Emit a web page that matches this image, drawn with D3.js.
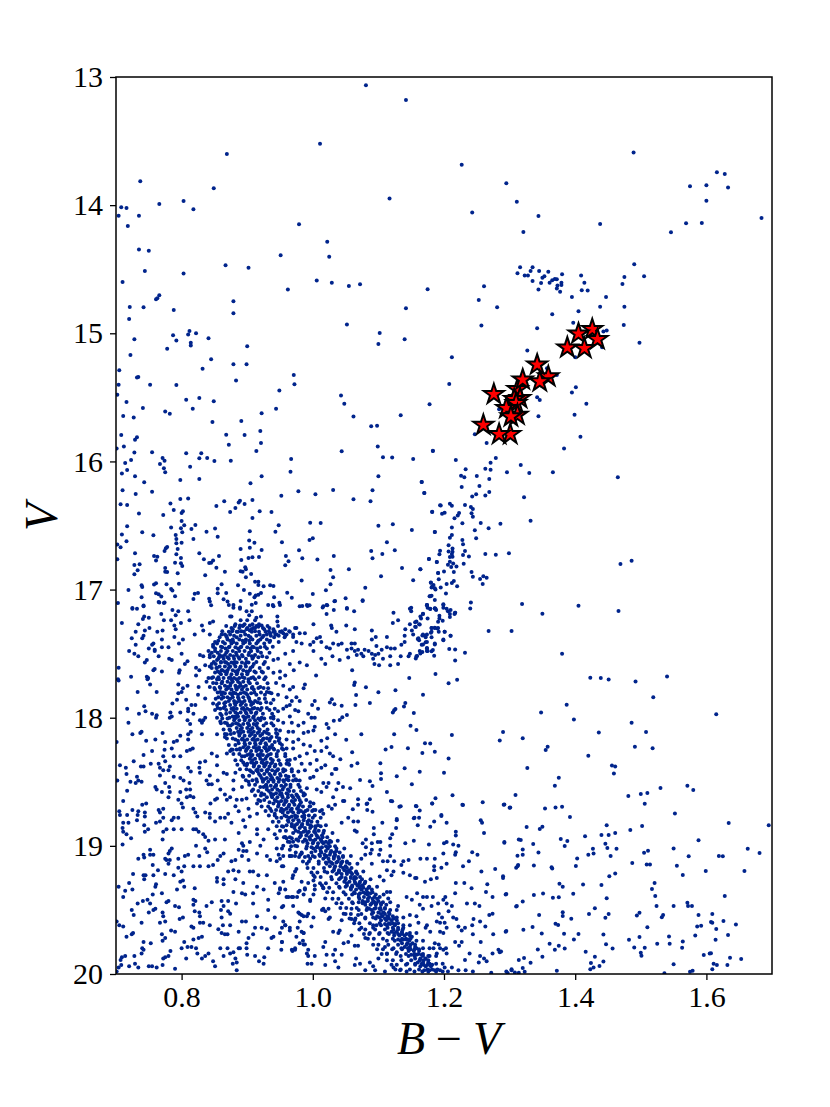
<!DOCTYPE html>
<html>
<head>
<meta charset="utf-8">
<script src="https://cdn.jsdelivr.net/npm/d3@7"></script>
<style>
  body { margin: 0; background: #fff; }
  text { font-family: "Liberation Serif", serif; fill: #000; }
</style>
</head>
<body>
<div id="chart"></div>
<script>
let FRAME_WIDTH = 830;
let FRAME_HEIGHT = 1107;
let MARGINS = {left: 116, right: 58, top: 77, bottom: 133};

const xTicks = [0.8, 1.0, 1.2, 1.4, 1.6];
const yTicks = [13, 14, 15, 16, 17, 18, 19, 20];

// [B-V, V], one list per part of the diagram
const brightField = [[1.081,13.065],[1.142,13.179],[1.011,13.52],[.869,13.6],[.737,13.814],[.849,13.868],[1.117,13.949],[.708,14.017],[.716,14.022],[.766,13.991],[.803,13.967],[.818,14.032],[.704,14.082],[.735,14.082],[.718,14.162],[.979,14.149],[1.022,14.285],[.951,14.391],[1.025,14.402],[.735,14.347],[.75,14.355],[.744,14.514],[.803,14.534],[.867,14.469],[.902,14.488],[.71,14.6],[1.006,14.589],[1.029,14.605],[1.055,14.631],[1.072,14.618],[.962,14.659],[1.175,14.657],[.766,14.704],[.763,14.727],[.761,14.735],[.879,14.75],[.879,14.844],[.721,14.795],[.742,14.797],[.788,14.818],[1.142,14.805],[.72,14.888],[1.052,14.932],[1.102,14.998],[1.14,15.047],[1.1,15.083],[.728,15.047],[.787,15.016],[.792,15.057],[.812,14.982],[.81,15.01],[.822,15],[.841,15.039],[.814,15.073],[.814,15.096],[.778,15.12],[.9,15.102],
[1.489,13.59],[1.227,13.684],[1.295,13.829],[1.616,13.744],[1.628,13.757],[1.575,13.853],[1.6,13.845],[1.633,13.863],[1.311,13.973],[1.6,13.965],[1.243,14.058],[1.344,14.084],[1.684,14.1],[1.438,14.147],[1.569,14.142],[1.593,14.139],[1.546,14.212],[1.321,14.209],[1.49,14.462],[1.316,14.485],[1.335,14.485],[1.332,14.514],[1.345,14.514],[1.359,14.519],[1.312,14.532],[1.323,14.55],[1.328,14.55],[1.38,14.54],[1.409,14.55],[1.353,14.555],[1.35,14.566],[1.369,14.576],[1.372,14.579],[1.365,14.586],[1.475,14.56],[1.505,14.555],[1.335,14.592],[1.348,14.607],[1.361,14.605],[1.379,14.605],[1.379,14.623],[1.373,14.628],[1.372,14.651],[1.414,14.605],[1.472,14.615],[1.261,14.633],[1.344,14.659],[1.41,14.665],[1.419,14.667],[1.377,14.675],[1.253,14.74],[1.395,14.717],[1.447,14.717],[1.281,14.797],[1.438,14.792],[1.475,14.792],[1.405,14.828],[1.365,14.852],
[1.397,14.917],[1.257,14.94],[1.342,14.961],[1.474,14.935],[1.443,14.987],[1.448,14.979],[1.498,15.073],[1.441,15.109],[1.4,15.187],[1.327,15.135],[1.212,15.187],[1.208,15.396],[1.401,15.422],[1.395,15.463],[1.342,15.5],[1.346,15.52],[1.417,15.549],[1.344,15.648],[1.399,15.635],[1.408,15.807],[1.383,15.9],[1.279,15.973],[1.218,15.989],[1.247,15.788],[1.265,15.856],[1.284,15.593],[1.372,15.325],[1.357,15.273]];

const midField = [[.722,15.169],[.845,15.203],[.879,15.242],[.899,15.242],[.832,15.276],[.705,15.289],[.732,15.346],[.734,15.341],[.971,15.325],[.972,15.398],[.883,15.369],[.704,15.401],[.752,15.401],[.792,15.403],[.949,15.447],[.702,15.479],[1.043,15.486],[1.048,15.549],[.807,15.518],[.827,15.505],[.849,15.531],[.716,15.536],[1.178,15.554],[.741,15.583],[.817,15.588],[.944,15.588],[.775,15.611],[.782,15.627],[.922,15.624],[1.134,15.64],[.711,15.645],[.727,15.658],[1.062,15.65],[.847,15.692],[.891,15.684],[1.089,15.726],[1.098,15.721],[.92,15.762],[.868,15.791],[.896,15.793],[.708,15.793],[.732,15.812],[.729,15.83],[.921,15.856],[.872,15.869],[.712,15.884],[1.099,15.884],[.701,15.9],[.914,15.918],[1.183,15.918],[1.044,15.921],[.728,15.931],[.755,15.929],[.807,15.936],[.83,15.936],[.771,15.973],[.774,15.994],[.827,15.975],[.839,15.973],[.85,15.996],[.875,15.994],[.967,15.981],[1.107,15.968],[1.121,15.97],[1.153,15.981],[.723,15.989],[.714,16.012],[.767,16.02],[.813,16.041],[.773,16.054],[.717,16.067],[.775,16.085],[.709,16.095],[.966,16.08],[.729,16.116],[.922,16.116],[1.1,16.116],[.798,16.145],[.827,16.137],[.743,16.163],[.905,16.171],[1.166,16.16],[1.091,16.225],[1.031,16.223],[.71,16.225],[.755,16.236],[.978,16.233],[.73,16.254],[1.004,16.256],[1.17,16.246],[.952,16.267],[.798,16.293],[.81,16.29],[1.062,16.295],[1.088,16.311],[.908,16.301],[.865,16.311],[.889,16.306],[.887,16.321],[.896,16.332],[.783,16.329],[.707,16.334],[.717,16.34],[.853,16.348],[1.194,16.342],[.882,16.363],[.788,16.379],[.874,16.394],[.919,16.389],[.937,16.394],[.802,16.389],[.8,16.402],[1.182,16.394],[.735,16.407],[.772,16.418],[.908,16.441],[.8,16.465],[.996,16.478],[1.012,16.48],[.804,16.498],[.821,16.496],[.948,16.498],[1.1,16.501],[1.122,16.491],[.717,16.506],[.784,16.516],[.799,16.522],[.815,16.527],[.851,16.524],[1.151,16.535],[.74,16.553],[.838,16.548],[.904,16.545],[.943,16.548],[1.186,16.55],[.709,16.571],[.757,16.576],[.791,16.574],[.801,16.553],[.855,16.587],[.792,16.605],[.818,16.605],[1,16.6],[.995,16.613],[.903,16.618],[.716,16.623],[.792,16.639],[.8,16.634],[.911,16.634],[.953,16.631],[1.113,16.631],[.702,16.649],[.707,16.67],[.778,16.667],[.776,16.678],[.774,16.699],[.794,16.683],[.89,16.683],[.904,16.673],[.922,16.691],[.979,16.694],[1.125,16.694],[1.089,16.699],[.729,16.717],[.792,16.725],[.827,16.717],[.758,16.738],[.763,16.743],[.857,16.738],[.959,16.738],[1.032,16.738],[1.106,16.722],[.918,16.745],[.902,16.753],[.908,16.748],[.799,16.753],[.834,16.763],[.984,16.756],[1.007,16.766],[1.091,16.756],[.891,16.769],[1.177,16.761],[1.189,16.784],[.761,16.774],[.702,16.763],[.79,16.79],[.799,16.795],[.848,16.774],[.842,16.792],[.845,16.79],[.963,16.779],[.958,16.811],[.728,16.808],[.736,16.803],[.801,16.816],[.853,16.829],[.775,16.831],[.775,16.86],[.778,16.863],[.733,16.85],[.728,16.881],[.794,16.873],[.866,16.86],[.897,16.826],[.89,16.857],[.893,16.86],[.898,16.842],[.906,16.878],[1.027,16.847],[1.055,16.842],[1.136,16.831],[1.164,16.842],[1.191,16.87],[.836,16.889],[.898,16.904],[1.031,16.904],[1.104,16.896],[.912,16.938],[.917,16.938],[.917,16.964],[.983,16.93],[1.153,16.928],[1.18,16.946],[.758,16.961],[.761,16.951],[.739,16.967],[.74,16.98],[.777,16.959],[.796,16.954],[.861,16.959],[.886,16.967],[.925,16.974],[.935,16.967],[.94,16.972],[1.027,16.959],[1.182,16.977],[1.186,16.99],[1.08,16.985],[.719,17.003],[.784,16.995],[.786,17.008],[.855,16.993],[.895,17.003],[1.02,17.006],[.761,17.029],[.765,17.037],[.769,17.055],[.82,17.032],[.825,17.026],[.855,17.029],[.868,17.026],[.904,17.032],[.913,17.047],[.911,17.06],[.917,17.04],[.921,17.026],[.961,17.024],[1,17.034],[.739,17.06],[.79,17.052],[.818,17.073],[.842,17.071],[.843,17.094],[.845,17.123],[.864,17.076],[.87,17.094],[.872,17.12],[.89,17.089],[.941,17.06],[.968,17.063],[1.05,17.068],[1.033,17.092],[1.076,17.084],[1.179,17.052],[.703,17.105],[.765,17.097],[.773,17.105],[.742,17.125],[.913,17.105],[.907,17.118],[.932,17.12],[.939,17.12],[.94,17.13],[.949,17.102],[.95,17.12],[.984,17.128],[.992,17.128],[.995,17.123],[1.022,17.123],[1.015,17.139],[1.174,17.123],[.725,17.143],[.879,17.141],[.889,17.139],[1.052,17.143],[1.15,17.141],[1.186,17.146]];

const giantBranch = [[1.183,15.916],[1.271,16.01],[1.317,16.028],[1.233,16.062],[1.263,16.057],[1.271,16.065],[1.296,16.085],[1.33,16.091],[1.366,16.085],[1.465,16.124],[1.226,16.111],[1.231,16.124],[1.25,16.114],[1.269,16.137],[1.166,16.161],[1.254,16.192],[1.227,16.2],[1.17,16.247],[1.269,16.239],[1.263,16.265],[1.249,16.257],[1.243,16.273],[1.322,16.28],[1.209,16.33],[1.212,16.345],[1.195,16.343],[1.232,16.34],[1.241,16.356],[1.244,16.372],[1.182,16.392],[1.197,16.408],[1.201,16.4],[1.223,16.403],[1.221,16.421],[1.242,16.405],[1.244,16.431],[1.216,16.444],[1.228,16.483],[1.256,16.481],[1.286,16.486],[1.332,16.463],[1.212,16.515],[1.268,16.522],[1.247,16.538],[1.186,16.551],[1.212,16.574],[1.209,16.595],[1.249,16.6],[1.228,16.613],[1.229,16.647],[1.207,16.655],[1.213,16.679],[1.207,16.702],[1.213,16.704],[1.212,16.723],[1.209,16.746],[1.213,16.743],[1.194,16.697],[1.193,16.725],[1.232,16.699],[1.229,16.73],[1.238,16.741],[1.263,16.723],[1.279,16.728],[1.299,16.717],[1.177,16.762],[1.189,16.785],[1.209,16.783],[1.206,16.806],[1.214,16.796],[1.211,16.824],[1.219,16.819],[1.23,16.798],[1.469,16.801],[1.486,16.775],[1.164,16.842],[1.2,16.858],[1.191,16.871],[1.215,16.863],[1.242,16.863],[1.244,16.9],[1.192,16.92],[1.26,16.897],[1.265,16.907],[1.255,16.918],[1.259,16.957],[1.215,16.933],[1.212,16.949],[1.204,16.957],[1.18,16.944],[1.184,16.965],[1.181,16.983],[1.187,16.999],[1.195,16.983],[1.22,16.975],[1.203,17.03],[1.181,17.048],[1.178,17.053],[1.186,17.082],[1.241,17.1],[1.24,17.147],[1.199,17.115],[1.199,17.142],[1.174,17.121],[1.175,17.142],[1.179,17.152],[1.186,17.147],[1.188,17.16],[1.21,17.16],[1.206,17.17],[1.217,17.181],[1.216,17.19],[1.319,17.113],[1.405,17.126],[1.35,17.188],[1.466,17.167],[1.168,17.188],[1.165,17.225],[1.175,17.225],[1.193,17.204],[1.193,17.225],[1.191,17.251],[1.198,17.243],[1.209,17.214],[1.156,17.255],[1.163,17.272],[1.157,17.292],[1.181,17.3],[1.186,17.298],[1.19,17.303],[1.192,17.329],[1.18,17.337],[1.201,17.329],[1.21,17.36],[1.268,17.324],[1.303,17.324],[1.167,17.358],[1.172,17.358],[1.172,17.373],[1.181,17.373],[1.16,17.386],[1.162,17.396],[1.199,17.396],[1.172,17.412],[1.168,17.428],[1.186,17.428],[1.174,17.456],[1.174,17.48],[1.167,17.487],[1.164,17.498],[1.183,17.472],[1.181,17.482],[1.208,17.464],[1.217,17.467],[1.232,17.493],[1.185,17.516],[1.159,17.519],[1.157,17.537],[1.217,17.553]];

const subgiantBranch = [[.935,17.34],[.94,17.33],[.945,17.35],[.95,17.33],[.955,17.34],[.96,17.35],[.965,17.33],[.97,17.37],[.975,17.3],[.98,17.34],[.988,17.34],[.975,17.41],[.983,17.42],[.996,17.43],[1.001,17.41],[1.006,17.38],[1.011,17.37],[1.013,17.41],[1.021,17.45],[1.026,17.46],[1.031,17.42],[1.039,17.43],[1.044,17.42],[1.052,17.47],[1.059,17.42],[1.059,17.46],[1.064,17.48],[1.069,17.47],[1.074,17.5],[1.079,17.47],[1.085,17.48],[1.09,17.5],[1.095,17.51],[1.092,17.54],[1.094,17.58],[1.101,17.59],[1.107,17.54],[1.118,17.52],[1.118,17.59],[1.13,17.58],[1.1,17.5],[1.105,17.47],[1.001,17.48],[1.013,17.54],[1.019,17.58],[1.03,17.52],[1.041,17.55],[1.054,17.53],[1.067,17.51],[1.077,17.52],[1.06,17.63],
[1.174,17.12],[1.179,17.15],[1.187,17.15],[1.199,17.12],[1.204,17.15],[1.209,17.19],[1.217,17.18],[1.168,17.19],[1.164,17.21],[1.158,17.25],[1.148,17.27],[1.162,17.27],[1.156,17.29],[1.151,17.32],[1.141,17.31],[1.14,17.36],[1.168,17.35],[1.174,17.35],[1.191,17.3],[1.186,17.3],[1.181,17.3],[1.201,17.33],[1.21,17.36],[1.199,17.39],[1.186,17.42],[1.174,17.41],[1.161,17.38],[1.153,17.35],[1.181,17.33],[1.166,17.43],[1.174,17.46],[1.175,17.48],[1.163,17.48],[1.148,17.5],[1.146,17.52],[1.158,17.52],[1.134,17.52],[1.135,17.43],[1.14,17.41],[1.125,17.46],[1.119,17.46],[1.113,17.45],[1.097,17.44],
[.876,17.21],[.843,17.26],[.848,17.25],[.831,17.28],[.833,17.32],[.82,17.35],[.843,17.35],[.866,17.35],[.889,17.28],[.894,17.28],[.904,17.28],[.914,17.22],[.921,17.21],[.946,17.21],[.946,17.25],[.973,17.3],[1.001,17.27],[1.028,17.28],[1.029,17.3],[1.051,17.28],[1.064,17.31],[1.036,17.33],[.899,17.17],[.907,17.17],[.903,17.2],[.889,17.15],[.879,17.12],[.874,17.21],[.886,17.33],[.904,17.32],[.909,17.3],[.917,17.29],[.922,17.28],[.98,17.13],[.991,17.12],[1.016,17.13],[1.021,17.12],[1.034,17.09],[1.032,17.16],[1.021,17.19],[1.063,17.17],[1.052,17.15],[1.076,17.09],[1.123,17.18],[1.148,17.15],[1.15,17.17],[1.13,17.24],[1.122,17.26],[1.09,17.32],[1.113,17.37],[1.096,17.37],[1.09,17.39],[1.064,17.42]];

const rightField = [[1.38,17.501],[1.423,17.688],[1.439,17.691],[1.451,17.701],[1.492,17.717],[1.54,17.678],[1.519,17.841],[1.387,17.899],[1.348,17.959],[1.398,18.013],[1.615,17.972],[1.486,18.039],[1.29,18.112],[1.436,18.115],[1.508,18.112],[1.32,18.161],[1.285,18.177],[1.491,18.226],[1.518,18.239],[1.358,18.226],[1.355,18.252],[1.42,18.297],[1.456,18.372],[1.461,18.38],[1.459,18.435],[1.327,18.393],[1.375,18.468],[1.369,18.531],[1.571,18.531],[1.58,18.565],[1.53,18.549],[1.51,18.588],[1.5,18.596],[1.481,18.611],[1.309,18.604],[1.506,18.671],[1.292,18.677],[1.3,18.703],[1.354,18.708],[1.37,18.7],[1.38,18.695],[1.552,18.747],[1.392,18.775],[1.634,18.822],[1.695,18.84],[1.448,18.84],[1.326,18.853],[1.35,18.851],[1.346,18.869],[1.502,18.846],[1.484,18.877],[1.415,18.926],[1.44,18.916],[1.451,18.916],[1.461,18.9],[1.378,18.947],[1.388,18.963],[1.317,18.955],[1.292,18.976],[1.336,18.986],[1.588,18.957],[1.446,18.983],[1.384,19.002],[1.449,19.017],[1.427,19.023],[1.463,19.023],[1.55,19.02],[1.663,19.023],[1.32,19.028],[1.344,19.051],[1.511,19.038],[1.505,19.054],[1.681,19.056],[1.312,19.077],[1.32,19.069],[1.42,19.069],[1.428,19.059],[1.454,19.08],[1.573,19.082],[1.619,19.08],[1.625,19.082],[1.403,19.098],[1.487,19.134],[1.509,19.145],[1.514,19.145],[1.313,19.15],[1.31,19.171],[1.337,19.153],[1.364,19.166],[1.365,19.176],[1.401,19.158],[1.555,19.155],[1.599,19.197],[1.658,19.197],[1.564,19.228],[1.461,19.215],[1.452,19.238],[1.29,19.238],[1.521,19.29],[1.376,19.296],[1.381,19.319],[1.412,19.301],[1.44,19.306],[1.517,19.337],[1.295,19.376],[1.337,19.384],[1.351,19.371],[1.397,19.374],[1.366,19.405],[1.375,19.402],[1.448,19.408],[1.522,19.392],[1.628,19.392],[1.32,19.434],[1.31,19.473],[1.571,19.444],[1.572,19.47],[1.578,19.47],[1.524,19.47],[1.55,19.47],[1.43,19.486],[1.381,19.519],[1.381,19.548],[1.345,19.54],[1.421,19.532],[1.451,19.532],[1.446,19.561],[1.498,19.522],[1.494,19.543],[1.534,19.54],[1.532,19.558],[1.588,19.54],[1.609,19.532],[1.394,19.569],[1.607,19.595],[1.609,19.6],[1.626,19.587],[1.37,19.608],[1.374,19.618],[1.645,19.613],[1.586,19.629],[1.592,19.623],[1.335,19.634],[1.51,19.636],[1.615,19.649],[1.295,19.665],[1.321,19.655],[1.349,19.683],[1.383,19.686],[1.405,19.688],[1.443,19.691],[1.583,19.699],[1.633,19.696],[1.498,19.712],[1.543,19.707],[1.398,19.73],[1.482,19.733],[1.564,19.746],[1.614,19.733],[1.361,19.764],[1.375,19.78],[1.447,19.767],[1.525,19.764],[1.544,19.764],[1.343,19.808],[1.369,19.811],[1.384,19.801],[1.457,19.801],[1.49,19.793],[1.506,19.795],[1.563,19.795],[1.287,19.824],[1.416,19.826],[1.5,19.834],[1.501,19.857],[1.607,19.839],[1.605,19.84],[1.596,19.852],[1.35,19.865],[1.43,19.865],[1.636,19.873],[1.653,19.883],[1.322,19.876],[1.314,19.891],[1.443,19.902],[1.332,19.912],[1.424,19.915],[1.55,19.923],[1.611,19.92],[1.616,19.93],[1.632,19.93],[1.437,19.938],[1.428,19.949],[1.423,19.962],[1.303,19.962],[1.32,19.954],[1.609,19.962],[1.372,19.975],[1.323,19.983],[1.308,19.988],[1.297,19.993],[1.575,19.983],[1.579,19.975],[1.536,19.995]];

const leftField = [[.725,17.15],[.732,17.15],[.742,17.13],[.766,17.1],[.774,17.1],[.709,17.26],[.769,17.19],[.743,17.21],[.741,17.23],[.75,17.22],[.734,17.27],[.773,17.24],[.784,17.24],[.786,17.16],[.795,17.17],[.791,17.2],[.81,17.17],[.812,17.24],[.799,17.26],[.789,17.28],[.791,17.31],[.751,17.3],[.744,17.32],[.73,17.33],[.724,17.38],[.742,17.36],[.74,17.38],[.763,17.33],[.771,17.32],[.77,17.39],[.757,17.42],[.755,17.43],[.73,17.43],[.75,17.46],[.759,17.47],[.759,17.48],[.77,17.45],[.78,17.45],[.789,17.37],[.796,17.42],[.802,17.39],[.8,17.5],[.72,17.48],[.728,17.5],[.734,17.52],[.747,17.55],[.744,17.57],[.765,17.52],[.781,17.54],[.785,17.55],[.809,17.56],[.805,17.58],[.704,17.61],[.723,17.68],[.757,17.63],[.759,17.62],[.77,17.64],[.797,17.63],[.796,17.65],[.822,17.61],[.827,17.63],[.822,17.67],[.703,17.7],[.704,17.71],[.747,17.68],[.749,17.69],[.748,17.7],[.752,17.74],[.795,17.74],[.809,17.75],[.826,17.76],[.802,17.77],[.8,17.8],[.795,17.81],[.733,17.8],[.762,17.8],[.825,17.82],[.807,17.86],[.793,17.86],[.836,17.85],[.786,17.89],[.821,17.9],[.815,17.9],[.81,17.93],[.717,17.93],[.743,17.91],[.745,17.95],[.735,17.97],[.755,17.97],[.762,17.98],[.761,18],[.783,17.96],[.785,17.99],[.782,18],[.798,17.96],[.81,17.95],[.818,17.97],[.836,18],[.828,18.02],[.831,18.04],[.719,18.04],[.809,18.02],[.813,18.05],[.737,18.12],[.739,18.11],[.725,18.13],[.771,18.12],[.76,18.17],[.746,18.18],[.798,18.14],[.793,18.18],[.788,18.19],[.775,18.19],[.701,18.19],[.814,18.11],[.81,18.13],[.81,18.17],[.831,18.13],[.785,18.24],[.774,18.25],[.772,18.3],[.755,18.26],[.742,18.29],[.817,18.24],[.813,18.25],[.808,18.26],[.798,18.3],[.788,18.3],[.775,18.34],[.727,18.34],[.706,18.37],[.715,18.39],[.738,18.38],[.742,18.38],[.753,18.36],[.765,18.36],[.767,18.39],[.782,18.38],[.78,18.41],[.772,18.41],[.828,18.35],[.836,18.34],[.81,18.39],[.814,18.42],[.827,18.39],[.828,18.43],[.716,18.44],[.732,18.46],[.767,18.45],[.702,18.49],[.722,18.5],[.73,18.51],[.739,18.5],[.734,18.49],[.775,18.51],[.788,18.46],[.798,18.47],[.803,18.49],[.812,18.51],[.838,18.49],[.841,18.52],[.846,18.52],[.843,18.45],[.855,18.49],[.864,18.43],[.869,18.44],[.76,18.54],[.762,18.56],[.77,18.58],[.781,18.54],[.782,18.58],[.78,18.62],[.717,18.57],[.798,18.58],[.807,18.56],[.813,18.56],[.813,18.61],[.818,18.62],[.808,18.62],[.859,18.56],[.854,18.63],[.851,18.64],[.711,18.65],[.795,18.64],[.8,18.67],[.802,18.7],[.844,18.67],[.74,18.68],[.746,18.67],[.772,18.71],[.765,18.72],[.705,18.73],[.725,18.72],[.734,18.73],[.733,18.76],[.744,18.74],[.744,18.77],[.767,18.74],[.818,18.71],[.821,18.74],[.824,18.77],[.836,18.74],[.843,18.75],[.711,18.82],[.706,18.76],[.717,18.76],[.732,18.8],[.767,18.81],[.772,18.78],[.761,18.82],[.788,18.78],[.785,18.8],[.795,18.78],[.843,18.78],[.851,18.81],[.859,18.78],[.866,18.78],[.71,18.86],[.711,18.89],[.719,18.82],[.716,18.91],[.723,18.94],[.743,18.84],[.749,18.87],[.744,18.89],[.772,18.89],[.777,18.87],[.788,18.87],[.8,18.87],[.818,18.87],[.822,18.87],[.826,18.89],[.833,18.91],[.836,18.93],[.841,18.96],[.851,18.95],[.866,18.95],[.771,18.95],[.71,18.99],[.785,19.02],[.782,19.04],[.78,19.06],[.822,19],[.836,19.02],[.839,19.05],[.752,19.03],[.742,19.07],[.734,19.1],[.743,19.09],[.752,19.07],[.757,19.07],[.777,19.11],[.782,19.11],[.78,19.14],[.775,19.1],[.795,19.1],[.805,19.08],[.81,19.07],[.827,19.08],[.859,19.08],[.864,19.06],[.855,19.11],[.756,19.15],[.764,19.19],[.795,19.17],[.804,19.16],[.818,19.16],[.828,19.16],[.841,19.16],[.848,19.15],[.726,19.22],[.742,19.23],[.745,19.23],[.743,19.26],[.757,19.23],[.775,19.22],[.788,19.23],[.8,19.2],[.802,19.27],[.798,19.28],[.704,19.32],[.72,19.29],[.714,19.35],[.725,19.34],[.761,19.3],[.76,19.32],[.793,19.34],[.804,19.32],[.82,19.33],[.854,19.25],[.854,19.28],[.864,19.3],[.879,19.36],[.756,19.38],[.77,19.37],[.711,19.4],[.748,19.42],[.741,19.43],[.733,19.45],[.752,19.45],[.78,19.43],[.777,19.44],[.79,19.47],[.796,19.48],[.818,19.42],[.821,19.43],[.818,19.46],[.846,19.44],[.838,19.47],[.861,19.43],[.864,19.47],[.871,19.43],[.883,19.45],[.909,19.45],[.724,19.5],[.727,19.54],[.757,19.5],[.76,19.49],[.75,19.52],[.771,19.52],[.772,19.55],[.797,19.57],[.802,19.56],[.82,19.51],[.827,19.52],[.828,19.55],[.86,19.5],[.871,19.51],[.874,19.53],[.739,19.6],[.767,19.6],[.775,19.59],[.701,19.59],[.705,19.62],[.711,19.63],[.833,19.6],[.828,19.6],[.843,19.62],[.861,19.56],[.863,19.62],[.874,19.62],[.892,19.59],[.898,19.59],[.815,19.63],[.818,19.64],[.726,19.68],[.724,19.69],[.716,19.71],[.77,19.69],[.775,19.72],[.771,19.74],[.784,19.66],[.79,19.67],[.856,19.65],[.861,19.68],[.866,19.69],[.87,19.69],[.831,19.71],[.826,19.72],[.818,19.73],[.804,19.75],[.742,19.75],[.753,19.76],[.74,19.8],[.742,19.81],[.8,19.8],[.809,19.79],[.815,19.79],[.822,19.8],[.824,19.84],[.783,19.82],[.831,19.88],[.841,19.84],[.836,19.86],[.807,19.88],[.78,19.86],[.775,19.87],[.772,19.88],[.739,19.84],[.728,19.86],[.714,19.86],[.709,19.87],[.707,19.89],[.708,19.93],[.704,19.95],[.701,19.98],[.72,19.94],[.729,19.92],[.734,19.95],[.75,19.94],[.755,19.94],[.762,19.95],[.771,19.93],[.79,19.96],[.848,19.9],[.864,19.86],[.874,19.84],[.879,19.83],[.882,19.88],[.884,19.91],[.878,19.92],[.851,19.94],[.884,19.97],[.859,19.8],[.87,19.8],[.887,19.8],[.889,19.8],[.899,19.76],[.902,19.72],[.887,19.67],[.899,19.8],[.912,19.86],[.926,19.87],[.918,19.9],[.925,19.92],[.9,19.85]];

const bandLeft = [[.854,17.42],[.848,17.43],[.841,17.48],[.833,17.52],[.843,17.51],[.828,17.51],[.851,17.48],[.854,17.55],[.846,17.58],[.836,17.59],[.843,17.6],[.854,17.61],[.861,17.63],[.841,17.69],[.846,17.69],[.848,17.73],[.838,17.72],[.843,17.76],[.854,17.7],[.851,17.78],[.859,17.8],[.856,17.84],[.864,17.84],[.848,17.89],[.854,17.9],[.851,17.94],[.859,17.93],[.866,17.91],[.861,17.98],[.854,18],[.859,18.03],[.866,18.04],[.871,18.06],[.874,18.1],[.869,18.13],[.882,17.99],[.833,18.02],[.854,18.13],[.866,18.15],[.846,18.28],[.854,18.3],[.869,18.28],[.874,18.26],[.878,18.25],[.882,18.17],[.887,18.2],[.889,18.25],[.892,18.3],[.894,18.35],[.899,18.37],[.904,18.41],[.894,18.46],[.902,18.5],[.915,18.5],[.909,18.43],[.854,18.37],[.879,18.49],[.882,18.43],[.925,18.54],[.922,18.59],[.92,18.65],[.915,18.67],[.93,18.62],[.94,18.67],[.935,18.71],[.942,18.75],[.945,18.78],[.955,18.85],[.958,18.93],[.942,18.91],[.932,18.87],[.945,18.94],[.968,18.94],[.975,18.95],[.965,19.08],[.948,19.07],[.955,19.08],[.973,19.08],[.981,19.07],[.996,19.1],[.991,19.14],[.945,19.12],[.93,19.23],[.917,19.23],[.909,19.2],[.904,19.2],[.892,19.08],[.894,19.04],[.887,19.03],[.892,18.98],[.894,19],[.882,19.11],[.876,19.12],[.915,19.06],[.902,19.11],[.871,19.2],[.879,19.19],[.887,19.2],[.864,19.26],[.882,19.26],[.894,19.29],[.915,19.32],[.948,19.37],[.95,19.34],[.96,19.4],[.968,19.4],[.986,19.38],[.978,19.36],[.988,19.34],[.892,19.37],[.897,19.38],[.955,19.47],[.932,19.5],[.942,19.56],[.955,19.59],[.958,19.62],[.978,19.52],[.983,19.54],[.991,19.55],[.965,19.66],[.977,19.64],[.986,19.68],[.968,19.81],[.973,19.8],[.953,19.75],[.94,19.71],[.937,19.72],[.932,19.8],[.952,19.81],[.912,19.64],[.922,19.64],[.909,19.69],[.985,19.74],[.988,19.77],[.991,19.84],
[.874,18.62],[.882,18.69],[.887,18.73],[.871,18.75],[.902,18.71],[.894,18.8],[.904,18.77],[.915,18.75],[.897,18.85],[.887,18.9],[.876,18.82],[.915,18.91],[.904,18.97],[.899,19.04],[.92,19],[.93,19.08],[.869,18.64],[.884,18.64],[.892,18.64],[.899,18.63],[.909,18.56],[.892,18.54],[.879,18.56],[.866,18.6],[.915,18.87],[.925,18.95],[.945,19.02],[.955,19],[.965,19.03],[.983,19.06],[.935,19.11],[.953,19.16],[.97,19.23],[.983,19.28],[.955,19.28],[.942,19.29],[.925,19.34],[.909,19.37],[.932,19.42],[.97,19.47],[.996,19.43],[.915,19.55],[.93,19.65],
[1.001,18.67],[1.001,18.72],[1.014,18.72],[1.016,18.75],[.96,18.94],[.953,19.02],[.965,18.97],[.973,19],[1.044,18.82],[1.054,18.78],[1.062,18.81],[1.069,18.81],[1.064,18.88],[1.067,18.89],[.965,19.08],[.968,19.08],[.95,19.1],[.993,19.08],[.955,19.16],[.975,19.18],[.973,19.2],[.969,19.25],[1.001,19.23],[1.001,19.27],[.993,19.29],[.988,19.33],[1.003,19.34],[.98,19.35],[.976,19.4],[.97,19.4],[.963,19.4],[1.003,19.31],[1.014,19.31],[1.016,19.33],[1.001,19.38],[.996,19.42],[.95,19.33],[.958,19.34],[1.019,19.41],[1.024,19.49],[1.016,19.49],[1.019,19.51],[1.014,19.5],[.953,19.48],[.98,19.53],[.986,19.55],[.993,19.53],[1.001,19.56],[.998,19.63],[1.024,19.57],[1.026,19.56],[1.044,19.58],[1.047,19.53],[1.059,19.49],[1.059,19.57],[1.069,19.54],[1.064,19.58],[.98,19.59],[.983,19.67],[.975,19.71],[.965,19.64],[.958,19.62],[.953,19.64],[.95,19.68],[.953,19.75],[.986,19.68],[.98,19.76],[.973,19.81],[.969,19.82],[.986,19.77],[.993,19.81],[1.003,19.86],[.993,19.86],[.998,19.92],[.992,19.92],[1.019,19.75],[1.016,19.79],[1.031,19.67],[1.039,19.68],[1.041,19.66],[1.059,19.7],[1.054,19.75],[1.064,19.78],[1.069,19.78],[1.047,19.76],[1.034,19.81],[1.031,19.85],[1.044,19.85],[1.021,19.85],[1.034,19.9],[1.019,19.93],[1.066,19.88],[1.072,19.92],[1.064,19.93],[1.039,19.95],[1.08,19.97],[1.087,19.91],[1.1,19.88],[1.092,19.94],[1.095,19.97],[1.11,19.98],[1.074,19.64],[1.08,19.72],[1.087,19.68],[1.092,19.64],[1.097,19.62],[1.11,19.79],[1.113,19.84],[1.128,19.83],[1.123,19.95],[1.133,19.97],[1.143,19.98]];

const bandRight = [[.94,17.55],[.947,17.54],[.958,17.5],[.97,17.48],[.98,17.57],[.991,17.59],[.971,17.63],[.965,17.58],[.95,17.64],[.958,17.67],[.94,17.65],[.944,17.73],[.95,17.69],[.932,17.77],[.93,17.8],[.937,17.81],[.955,17.75],[.965,17.78],[.97,17.76],[.986,17.77],[.988,17.74],[1.005,17.67],[.94,17.86],[.947,17.82],[.96,17.84],[.975,17.84],[.98,17.87],[.968,17.87],[.955,17.93],[.96,17.91],[.965,17.9],[.942,17.93],[.947,17.95],[.978,17.95],[.973,17.94],[1.003,17.87],[1.008,17.93],[.999,17.9],[.993,17.97],[1.003,18],[.998,18],[.94,17.99],[.947,18.02],[.965,17.99],[.955,18.04],[.978,18.06],[.968,18.04],[.986,18.04],[.97,18.11],[.963,18.11],[.95,18.1],[.945,18.15],[.937,18.15],[.93,18.16],[.986,18.12],[.993,18.11],[1.001,18.1],[1.003,18.07],[1.021,18.05],[1.024,18.08],[1.013,18.18],[1.022,18.16],[1.034,18.13],[.978,18.17],[.986,18.21],[.97,18.19],[.96,18.17],[.95,18.2],[.942,18.19],[.937,18.23],[.947,18.26],[.96,18.24],[.97,18.24],[.996,18.22],[1.003,18.26],[1.013,18.26],[1.021,18.23],[1.026,18.28],[1.031,18.3],[.991,18.28],[.98,18.3],[.973,18.32],[.965,18.33],[.96,18.36],[.983,18.36],[.996,18.36],[1.006,18.33],[1.019,18.37],[1.013,18.39],[1.006,18.41],[1.034,18.4],[1.036,18.4],[1.029,18.44],[.988,18.41],[.978,18.42],[.963,18.46],[.958,18.41],[.97,18.49],[.98,18.49],[.996,18.47],[1.001,18.46],[1.016,18.51],[1.024,18.51],[1.021,18.54],[1.039,18.51],[1.046,18.54],[1.057,18.55],[1.036,18.56],[1.031,18.62],[1.013,18.58],[1.006,18.56],[.991,18.55],[.986,18.59],[1.046,18.65],[1.034,18.68],[1.029,18.71],[1.024,18.69],[.996,18.69],[1.011,18.73],[.978,18.62],
[1.147,17.69],[1.126,17.786],[1.168,17.82],[1.1,17.802],[1.081,17.763],[1.064,17.726],[1.063,17.745],[1.066,17.822],[1.065,17.9],[1.087,17.885],[1.124,17.942],[1.126,17.932],[1.122,17.96],[1.141,17.885],[1.139,17.913],[1.154,17.963],[1.044,17.906],[1.029,17.856],[1.026,17.882],[1.033,17.895],[1.052,17.978],[1.045,17.997],[1.041,18.017],[1.032,18.023],[1.149,18.062],[1.158,18.096],[1.074,18.129],[1.124,18.129],[1.212,18.135],[1.051,18.171],[1.171,18.2],[1.179,18.202],[1.12,18.228],[1.111,18.249],[1.145,18.239],[1.167,18.275],[1.186,18.265],[1.207,18.319],[1.06,18.27],[1.042,18.325],[1.103,18.356],[1.059,18.374],[1.068,18.356],[1.14,18.395],[1.163,18.421],[1.2,18.429],[1.104,18.434],[1.104,18.478],[1.128,18.457],[1.072,18.486],[1.087,18.496],[1.091,18.533],[1.151,18.52],[1.113,18.579],[1.213,18.605],[1.187,18.629],[1.121,18.652],[1.182,18.67],[1.229,18.681],[1.132,18.694],[1.157,18.689],[1.163,18.725],[1.196,18.767],[1.087,18.637],[1.082,18.673],[1.069,18.637],[1.048,18.65],[1.091,18.733],[1.061,18.715],[1.128,18.79],[1.154,18.785],[1.187,17.658],[1.207,17.731],[1.22,17.703],
[1.228,18.68],[1.259,18.66],[1.291,18.68],[1.301,18.7],[1.256,18.8],[1.258,18.82],[1.261,18.9],[1.292,18.97],[1.314,18.95],[1.158,18.69],[1.182,18.67],[1.134,18.69],[1.119,18.65],[1.083,18.67],[1.083,18.72],[1.069,18.68],[1.162,18.78],[1.155,18.78],[1.16,18.84],[1.185,18.81],[1.179,18.85],[1.204,18.82],[1.196,18.76],[1.106,18.82],[1.128,18.8],[1.127,18.86],[1.121,18.91],[1.118,18.94],[1.093,18.86],[1.093,18.91],[1.218,18.89],[1.218,18.92],[1.204,18.97],[1.2,18.98],[1.222,19],[1.214,18.99],[1.177,18.99],[1.154,18.96],[1.141,18.98],[1.118,19],[1.099,18.97],[1.103,18.97],[1.09,18.98],[1.081,18.95],[1.076,18.98],[1.081,19.01],[1.103,19.03],[1.09,19.03],[1.088,19.06],[1.199,19.06],[1.218,19.05],[1.217,19.07],[1.243,19.05],[1.251,19.07],[1.229,19.16],[1.238,19.12],[1.257,19.2],[1.278,19.18],[1.29,19.25],[1.312,19.16],[1.218,19.29],[1.231,19.29],[1.242,19.33],[1.266,19.3],[1.264,19.36],[1.274,19.4],[1.294,19.38],[1.311,19.47],[1.204,19.14],[1.196,19.17],[1.185,19.16],[1.185,19.19],[1.164,19.1],[1.174,19.1],[1.186,19.1],[1.158,19.25],[1.148,19.23],[1.138,19.12],[1.146,19.11],[1.135,19.15],[1.118,19.08],[1.114,19.12],[1.124,19.12],[1.101,19.07],[1.107,19.12],[1.08,19.07],[1.074,19.1],[1.09,19.14],[1.113,19.19],[1.123,19.2],[1.12,19.23],[1.102,19.24],[1.108,19.27],[1.138,19.21],[1.156,19.25],[1.171,19.28],[1.18,19.26],[1.189,19.25],[1.202,19.4],[1.199,19.42],[1.191,19.45],[1.168,19.4],[1.174,19.4],[1.183,19.4],[1.217,19.37],[1.159,19.37],[1.143,19.4],[1.113,19.36],[1.118,19.36],[1.115,19.41],[1.13,19.47],[1.151,19.42],[1.163,19.46],[1.168,19.49],[1.181,19.47],[1.204,19.45],[1.212,19.47],[1.207,19.51],[1.219,19.57],[1.214,19.56],[1.235,19.45],[1.247,19.45],[1.254,19.47],[1.269,19.54],[1.274,19.53],[1.245,19.57],[1.255,19.59],[1.263,19.63],[1.192,19.53],[1.197,19.56],[1.189,19.59],[1.174,19.62],[1.172,19.64],[1.179,19.67],[1.194,19.6],[1.201,19.6],[1.204,19.64],[1.199,19.68],[1.194,19.67],[1.222,19.63],[1.227,19.66],[1.232,19.64],[1.243,19.62],[1.244,19.69],[1.256,19.75],[1.275,19.69],[1.294,19.67],[1.217,19.75],[1.227,19.75],[1.223,19.78],[1.192,19.77],[1.186,19.76],[1.184,19.8],[1.194,19.8],[1.199,19.81],[1.203,19.8],[1.204,19.84],[1.189,19.84],[1.239,19.84],[1.255,19.86],[1.261,19.88],[1.253,19.91],[1.265,19.9],[1.274,19.84],[1.283,19.81],[1.285,19.83],[1.176,19.86],[1.143,19.73],[1.151,19.71],[1.161,19.6],[1.148,19.54],[1.158,19.55],[1.232,19.89],[1.222,19.97],[1.233,19.97],[1.244,19.98],[1.272,19.99],[1.295,19.98],[1.303,19.97],[1.314,19.99],[1.212,19.95],[1.201,19.95]];

// the solid part of the sequence, one V value and its B-V values per row
const coreV = [17.24,17.27,17.30,17.33,17.36,17.39,17.42,17.45,17.48,17.51,17.54,17.57,17.60,17.63,17.66,17.69,17.72,17.75,17.78,17.81,17.84,17.87,17.90,17.93,17.96,17.99,18.02,18.05,18.08,18.11,18.14,18.17,18.20,18.23,18.26,18.29,18.32,18.35,18.38,18.41,18.44,18.47,18.50,18.53,18.56,18.59,18.62,18.65,18.68,18.71,18.74,18.77,18.80,18.83,18.86,18.89,18.92,18.95,18.98,19.01,19.04,19.07,19.10,19.13,19.16,19.19,19.22,19.25,19.28,19.31,19.34,19.37,19.40,19.43,19.46,19.49,19.52,19.55,19.58,19.61,19.64,19.67,19.70,19.73,19.76,19.79,19.82,19.85,19.88,19.91,19.94,19.97];
const coreBV = [[.89,.9,.912],[.882,.896,.908,.918],[.876,.888,.9,.912,.924,.934],[.872,.884,.895,.907,.918,.928,.942,.952],[.868,.88,.89,.902,.914,.925,.936,.948,.958],[.87,.878,.888,.898,.908,.92,.93],[.866,.876,.884,.894,.904,.914,.926],[.862,.872,.882,.89,.9,.91,.92],[.86,.87,.878,.888,.896,.906,.916],[.858,.866,.874,.884,.892,.902,.912],[.856,.864,.872,.88,.888,.898,.908],[.86,.868,.876,.884,.892,.902],[.858,.866,.874,.882,.89,.898,.908],[.862,.87,.878,.886,.894,.904],[.86,.868,.876,.884,.892,.9],[.864,.872,.88,.888,.896,.906],[.862,.87,.878,.886,.894,.902],[.866,.874,.882,.89,.898],[.868,.876,.884,.892,.9,.91],[.866,.874,.882,.89,.898,.906],[.87,.878,.886,.894,.902],[.872,.88,.888,.896,.904,.912],[.874,.882,.89,.898,.906],[.876,.884,.892,.9,.908,.916],[.874,.882,.89,.898,.906,.914],[.878,.886,.894,.902,.91],[.88,.888,.896,.904,.912,.92],[.878,.886,.894,.902,.91],[.884,.892,.9,.908,.916],[.886,.894,.902,.91,.918,.926],[.888,.896,.904,.912,.92],[.892,.9,.908,.916,.924],[.896,.904,.912,.92,.928],[.894,.902,.91,.918,.926,.934],[.898,.906,.914,.922,.93],[.9,.908,.916,.924,.932],[.904,.912,.92,.928,.936],[.906,.914,.922,.93,.938],[.91,.918,.926,.934,.942],[.914,.922,.93,.938,.946],[.918,.926,.934,.942,.95],[.922,.93,.938,.946],[.924,.932,.94,.948,.956],[.928,.936,.944,.952],[.93,.938,.946,.954,.962],[.936,.944,.952,.96],[.938,.946,.954,.962,.97],[.944,.952,.96,.968],[.948,.956,.964,.972,.98],[.952,.96,.968,.976],[.954,.962,.97,.978,.986],[.96,.968,.976,.984],[.962,.97,.978,.986,.994],[.968,.976,.984,.992],[.972,.98,.988,.996,1.004],[.978,.986,.994,1.002],[.982,.99,.998,1.006,1.014],[.988,.996,1.004,1.012],[.992,1,1.008,1.016,1.024],[.998,1.006,1.014,1.022],[1.004,1.012,1.02,1.028,1.036],[1.01,1.018,1.026,1.034],[1.016,1.024,1.032,1.04],[1.02,1.028,1.036,1.044,1.052],[1.026,1.034,1.042,1.05],[1.032,1.04,1.048,1.056],[1.036,1.044,1.052,1.06,1.068],[1.042,1.05,1.058,1.066],[1.048,1.056,1.064,1.072,1.08],[1.052,1.06,1.068,1.076],[1.058,1.066,1.074,1.082,1.09],[1.064,1.072,1.08,1.088],[1.07,1.078,1.086,1.094,1.102],[1.076,1.084,1.092,1.1],[1.08,1.088,1.096,1.104,1.112],[1.086,1.094,1.102,1.11],[1.092,1.1,1.108,1.116],[1.098,1.106,1.114,1.122],[1.104,1.112,1.12,1.128],[1.11,1.118,1.126],[1.114,1.122,1.13,1.138],[1.12,1.128,1.136],[1.124,1.132,1.14,1.148],[1.13,1.138,1.146],[1.136,1.144,1.152],[1.14,1.148,1.156],[1.146,1.154,1.162],[1.15,1.158,1.166],[1.156,1.164,1.172],[1.16,1.168,1.176],[1.164,1.172,1.18],[1.17,1.178,1.186,1.194]];

// looser stars around and between the core rows, the band is wider than the core
const haloV = [17.285,17.325,17.372,17.41,17.447,17.493,17.528,17.566,17.612,17.648,17.684,17.731,17.768,17.803,17.852,17.888,17.924,17.969,18.007,18.043,18.091,18.127,18.163,18.212,18.248,18.284,18.331,18.367,18.403,18.452,18.488,18.524,18.571,18.607,18.643,18.692,18.728,18.764,18.811,18.847,18.883,18.932,18.968,19.004,19.051,19.087,19.123,19.172,19.208,19.244,19.291,19.327,19.363,19.412,19.448,19.484,19.531,19.567,19.603,19.652,19.688,19.724,19.771,19.807,19.843,19.892,19.928,19.964];
const haloBV = [[.868,.881,.893,.914,.931,.947],[.862,.877,.891,.912,.933,.953,.964],[.858,.869,.884,.905,.923,.941,.957],[.851,.863,.879,.897,.916,.934,.948],[.848,.86,.873,.891,.908,.927,.939],[.846,.855,.868,.883,.903,.921,.934],[.843,.857,.87,.887,.909,.917,.93],[.849,.86,.866,.881,.899,.914,.927],[.846,.853,.872,.889,.905,.919,.932],[.851,.858,.869,.885,.901,.913,.924],[.848,.856,.874,.893,.909,.918,.928],[.853,.861,.875,.889,.904,.915,.931],[.85,.859,.871,.883,.907,.917,.925],[.855,.863,.879,.895,.911,.921,.934],[.852,.861,.874,.887,.903,.918,.927],[.857,.865,.881,.892,.909,.92,.936],[.855,.864,.879,.894,.911,.922,.93],[.859,.868,.885,.899,.913,.924,.938],[.862,.87,.881,.896,.917,.926,.94],[.86,.869,.883,.901,.915,.929,.937],[.864,.873,.89,.905,.919,.931,.944],[.866,.875,.888,.907,.923,.933,.946],[.869,.878,.893,.91,.925,.935,.949],[.872,.882,.897,.913,.929,.938,.953],[.876,.884,.899,.918,.933,.941,.955],[.879,.888,.904,.92,.936,.945,.958],[.882,.891,.908,.924,.939,.948,.961],[.885,.896,.911,.928,.943,.951,.964],[.889,.899,.916,.932,.947,.955,.968],[.893,.903,.92,.936,.951,.959,.971],[.898,.908,.924,.94,.955,.963,.975],[.903,.912,.929,.944,.959,.966,.978],[.907,.917,.933,.949,.964,.971,.982],[.912,.921,.937,.953,.968,.976,.986],[.917,.926,.942,.958,.973,.98,.99],[.922,.932,.947,.963,.978,.985,.995],[.928,.937,.951,.967,.982,.989,.999],[.933,.942,.957,.973,.987,.994,1.003],[.939,.948,.963,.979,.992,.998,1.007],[.945,.953,.968,.983,.998,1.004,1.012],[.95,.959,.974,.989,1.003,1.009,1.017],[.956,.965,.98,.995,1.008,1.015,1.022],[.962,.97,.985,1.001,1.014,1.02,1.028],[.967,.976,.991,1.007,1.02,1.026,1.034],[.974,.983,.998,1.013,1.027,1.033,1.041],[.979,.988,1.003,1.019,1.032,1.039,1.046],[.985,.994,1.009,1.025,1.038,1.045,1.052],[.992,1.001,1.017,1.033,1.046,1.052,1.059],[.998,1.007,1.022,1.039,1.052,1.058,1.066],[1.003,1.012,1.028,1.044,1.058,1.064,1.072],[1.011,1.02,1.036,1.052,1.065,1.071,1.079],[1.016,1.025,1.041,1.058,1.071,1.077,1.085],[1.022,1.031,1.047,1.063,1.077,1.083,1.091],[1.03,1.039,1.055,1.071,1.084,1.091,1.098],[1.036,1.044,1.061,1.076,1.09,1.097,1.104],[1.042,1.051,1.067,1.083,1.096,1.103,1.11],[1.05,1.058,1.074,1.09,1.104,1.11,1.117],[1.056,1.065,1.08,1.096,1.11,1.116,1.123],[1.063,1.071,1.087,1.102,1.116,1.122,1.13],[1.071,1.08,1.095,1.11,1.123,1.13,1.137],[1.078,1.086,1.101,1.116,1.13,1.136,1.143],[1.084,1.093,1.107,1.122,1.136,1.142,1.149],[1.092,1.1,1.115,1.13,1.143,1.149,1.156],[1.098,1.107,1.121,1.136,1.149,1.155,1.162],[1.105,1.113,1.127,1.142,1.155,1.161,1.168],[1.113,1.122,1.135,1.15,1.163,1.169,1.176],[1.12,1.128,1.142,1.156,1.169,1.175,1.182],[1.126,1.134,1.148,1.162,1.175,1.182,1.19]];

// more stars that close the gaps left in the band
const fillV = [17.31,17.35,17.40,17.46,17.52,17.58,17.64,17.70,17.76,17.82,17.88,17.94,18.00,18.06,18.12,18.18,18.24,18.30,18.36,18.42,18.48,18.54,18.60,18.66,18.72,18.78,18.84,18.90,18.96,19.02,19.08,19.14,19.20,19.26,19.32,19.38,19.44,19.50,19.56,19.62,19.68,19.74,19.80,19.86,19.92,19.98];
const fillBV = [[.878,.899,.906,.926,.94,.958],[.861,.874,.897,.919,.93,.943,.97],[.856,.874,.893,.903,.917,.935],[.851,.867,.886,.905,.915,.93],[.849,.862,.879,.893,.907,.923],[.852,.871,.88,.897,.91,.925],[.855,.866,.882,.899,.911,.922],[.857,.876,.884,.902,.912,.926],[.858,.87,.887,.894,.908,.92],[.861,.877,.886,.9,.914,.927],[.867,.884,.892,.906,.916,.929],[.868,.879,.896,.904,.92,.934],[.873,.883,.898,.909,.922,.936],[.875,.889,.903,.914,.925,.94],[.88,.89,.906,.916,.93,.944],[.886,.896,.912,.922,.934,.948],[.889,.9,.914,.928,.94,.953],[.896,.906,.919,.93,.945,.958],[.9,.91,.925,.936,.95,.963],[.906,.916,.93,.943,.955,.968],[.914,.926,.936,.949,.96,.974],[.92,.93,.942,.956,.966,.98],[.926,.94,.95,.962,.975,.988],[.934,.948,.958,.97,.982,.996],[.944,.956,.966,.979,.992,1.004],[.952,.964,.974,.987,1,1.012],[.96,.973,.983,.996,1.008,1.02],[.97,.982,.992,1.004,1.016,1.03],[.978,.99,1.001,1.013,1.026,1.038],[.99,1.001,1.011,1.023,1.036,1.048],[1,1.011,1.021,1.033,1.046,1.058],[1.009,1.021,1.03,1.043,1.056,1.068],[1.018,1.03,1.04,1.053,1.066,1.077],[1.029,1.04,1.05,1.063,1.075,1.088],[1.04,1.05,1.06,1.072,1.086,1.098],[1.05,1.06,1.07,1.083,1.096,1.108],[1.06,1.07,1.08,1.094,1.107,1.118],[1.07,1.082,1.09,1.104,1.118,1.128],[1.08,1.092,1.102,1.115,1.128,1.138],[1.092,1.104,1.113,1.125,1.138,1.148],[1.102,1.114,1.124,1.136,1.148,1.158],[1.113,1.125,1.134,1.147,1.158,1.168],[1.123,1.135,1.145,1.158,1.168,1.178],[1.134,1.146,1.155,1.168,1.178,1.188],[1.144,1.156,1.166,1.178,1.188,1.198],[1.155,1.167,1.176,1.188,1.198,1.206]];

// the red stars
const redClump = [[1.312,15.437],[1.316,15.507],[1.307,15.515],[1.31,15.546],[1.295,15.585],[1.312,15.637],[1.301,15.788],[1.302,15.65],[1.359,15.338],[1.342,15.245],[1.346,15.377],[1.32,15.362],[1.276,15.476],[1.26,15.716],[1.284,15.788],[1.426,14.969],[1.405,15.003],[1.434,15.047],[1.388,15.112],[1.414,15.117]];

let SVG = d3.select("#chart")
            .append("svg")
            .attr("width", FRAME_WIDTH)
            .attr("height", FRAME_HEIGHT);

let PLOT_WIDTH = FRAME_WIDTH - MARGINS.left - MARGINS.right;
let PLOT_HEIGHT = FRAME_HEIGHT - MARGINS.top - MARGINS.bottom;

const X_SCALE = d3.scaleLinear().domain([0.7, 1.7]).range([0, PLOT_WIDTH]);
const Y_SCALE = d3.scaleLinear().domain([13, 20]).range([0, PLOT_HEIGHT]);

SVG.append("defs").append("clipPath").attr("id", "plot-clip")
   .append("rect").attr("width", PLOT_WIDTH).attr("height", PLOT_HEIGHT);

let PLOT = SVG.append("g")
              .attr("transform", "translate(" + MARGINS.left + "," + MARGINS.top + ")");

// put the rows together with the other lists
const rowsToPoints = (vs, bvs) => vs.flatMap((v, i) => bvs[i].map((bv) => [bv, v]));
const allPoints = [].concat(brightField, midField, giantBranch, subgiantBranch, rightField, leftField, bandLeft, bandRight,
    rowsToPoints(coreV, coreBV), rowsToPoints(haloV, haloBV), rowsToPoints(fillV, fillBV));

PLOT.append("g")
    .attr("clip-path", "url(#plot-clip)")
    .selectAll("circle")
    .data(allPoints)
    .enter()
    .append("circle")
      .attr("cx", (d) => X_SCALE(d[0]))
      .attr("cy", (d) => Y_SCALE(d[1]))
      .attr("r", 2)
      .attr("fill", "#00248c");

PLOT.append("g")
    .selectAll("path")
    .data(redClump)
    .enter()
    .append("path")
      .attr("d", d3.symbol().type(d3.symbolStar).size(125))
      .attr("transform", (d) => "translate(" + X_SCALE(d[0]) + "," + Y_SCALE(d[1]) + ")")
      .attr("fill", "#ff0000")
      .attr("stroke", "#000")
      .attr("stroke-width", 2)
      .attr("stroke-linejoin", "miter");

// axes
let xAxis = PLOT.append("g")
    .attr("transform", "translate(0," + PLOT_HEIGHT + ")")
    .call(d3.axisBottom(X_SCALE).tickValues(xTicks).tickFormat(d3.format(".1f")).tickSize(6).tickSizeOuter(0).tickPadding(6));
let yAxis = PLOT.append("g")
    .call(d3.axisLeft(Y_SCALE).tickValues(yTicks).tickFormat(d3.format("d")).tickSize(6).tickSizeOuter(0).tickPadding(7));

[xAxis, yAxis].forEach((axis) => {
    axis.selectAll("text").attr("font-size", "30px").attr("font-family", "Liberation Serif").attr("fill", "#000");
    axis.selectAll("line").attr("stroke", "#000").attr("stroke-width", 1.3);
    axis.select(".domain").remove();
});

// frame on top of the points
PLOT.append("rect")
    .attr("width", PLOT_WIDTH)
    .attr("height", PLOT_HEIGHT)
    .attr("fill", "none")
    .attr("stroke", "#000")
    .attr("stroke-width", 1.5);

// axis titles
let xLabel = SVG.append("text")
    .attr("x", 449)
    .attr("y", 1054)
    .attr("text-anchor", "middle")
    .attr("font-size", "46px");
xLabel.append("tspan").attr("font-style", "italic").text("B");
xLabel.append("tspan").attr("dx", 11).text("\u2212");
xLabel.append("tspan").attr("dx", 11).attr("font-style", "italic").text("V");

SVG.append("text")
    .attr("transform", "translate(57,517) rotate(-90)")
    .attr("text-anchor", "middle")
    .attr("font-size", "46px")
    .attr("font-style", "italic")
    .text("V");
</script>
</body>
</html>
